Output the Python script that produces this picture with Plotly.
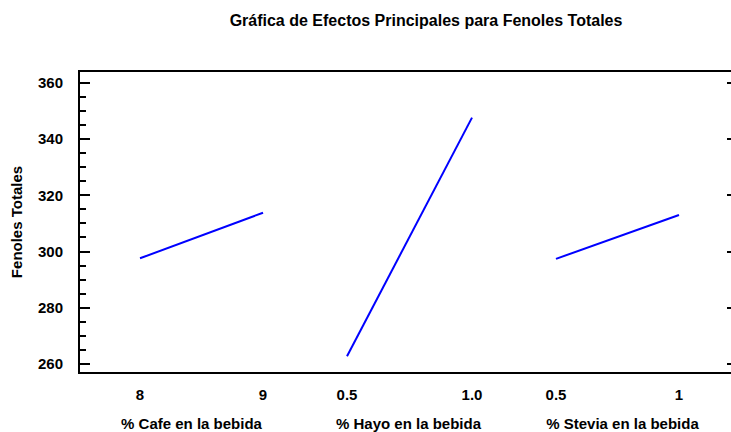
import plotly.graph_objects as go

# Data
cafe_x = [8, 9]
cafe_y = [297.6, 313.8]
hayo_x = [0.5, 1.0]
hayo_y = [262.8, 347.6]
stevia_x = [0.5, 1.0]
stevia_y = [297.4, 313.0]

cafe_ticks = [8, 9]
cafe_ticktext = ["8", "9"]
hayo_ticks = [0.5, 1.0]
hayo_ticktext = ["0.5", "1.0"]
stevia_ticks = [0.5, 1.0]
stevia_ticktext = ["0.5", "1"]

y_ticks = [260, 280, 300, 320, 340, 360]

title_text = "Gráfica de Efectos Principales para Fenoles Totales"
y_title = "Fenoles Totales"
x_titles = ["% Cafe en la bebida", "% Hayo en la bebida", "% Stevia en la bebida"]

FONT = "Liberation Sans, Arial, sans-serif"
blue = "#0000FF"

W, H = 731, 432

fig = go.Figure()
fig.add_trace(go.Scatter(x=cafe_x, y=cafe_y, mode="lines", line=dict(color=blue, width=2),
                         xaxis="x", yaxis="y", showlegend=False))
fig.add_trace(go.Scatter(x=hayo_x, y=hayo_y, mode="lines", line=dict(color=blue, width=2),
                         xaxis="x2", yaxis="y", showlegend=False))
fig.add_trace(go.Scatter(x=stevia_x, y=stevia_y, mode="lines", line=dict(color=blue, width=2),
                         xaxis="x3", yaxis="y", showlegend=False))

yr = [257.2, 363.8]
d1 = 223 / 651
d2 = 434 / 651

def xax(domain, rng, tv, tt, title):
    return dict(
        domain=domain, range=rng, anchor="y",
        tickvals=tv, ticktext=tt, ticks="",
        showline=True, linecolor="black", linewidth=2, mirror=True,
        showgrid=False, zeroline=False,
        tickfont=dict(family=FONT, size=15, color="black", weight=700),
        ticklabelstandoff=8,
        title=dict(text=title, standoff=24,
                   font=dict(family=FONT, size=15, color="black", weight=700)),
        automargin=False,
    )

fig.update_layout(
    width=W, height=H,
    margin=dict(l=80, r=0, t=72, b=60),
    paper_bgcolor="white", plot_bgcolor="white",
    title=dict(text=title_text, x=426 / W, xanchor="center", xref="container",
               y=1 - 20 / H, yanchor="middle", yref="container",
               font=dict(family=FONT, size=16, color="black", weight=700)),
    xaxis=xax([0, d1], [7.512, 9.325], cafe_ticks, cafe_ticktext, x_titles[0]),
    xaxis2=xax([d1, d2], [0.324, 1.168], hayo_ticks, hayo_ticktext, x_titles[1]),
    xaxis3=xax([d2, 1], [0.3293, 1.2114], stevia_ticks, stevia_ticktext, x_titles[2]),
    yaxis=dict(
        range=yr, tickvals=y_ticks, ticks="inside", ticklen=10, tickwidth=2, tickcolor="black",
        minor=dict(dtick=5, tick0=0, ticks="inside", ticklen=6, tickwidth=2, tickcolor="black"),
        showline=True, linecolor="black", linewidth=2,
        showgrid=False, zeroline=False,
        tickfont=dict(family=FONT, size=15, color="black", weight=700),
        ticklabelstandoff=12,
        title=dict(text=y_title, standoff=12,
                   font=dict(family=FONT, size=15, color="black", weight=700)),
        automargin=False,
    ),
    yaxis2=dict(
        range=yr, tickvals=y_ticks, overlaying="y", side="right", anchor="x3",
        ticks="inside", ticklen=4, tickwidth=2, tickcolor="black",
        showticklabels=False, showline=False, showgrid=False, zeroline=False,
    ),
)
fig.add_trace(go.Scatter(x=[None], y=[None], xaxis="x3", yaxis="y2", showlegend=False,
                         hoverinfo="skip"))

fig.write_html(
    "out.html",
    config={"displayModeBar": False},
    post_script="document.documentElement.style.overflow='hidden';"
                "document.body.style.margin='0';document.body.style.overflow='hidden';",
)
